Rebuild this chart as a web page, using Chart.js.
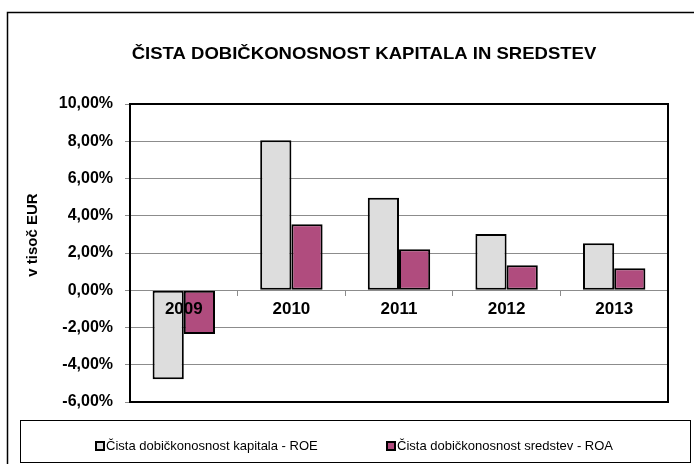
<!DOCTYPE html>
<html>
<head>
<meta charset="utf-8">
<script src="https://cdn.jsdelivr.net/npm/chart.js@4.4.1/dist/chart.umd.min.js"></script>
<style>
  html, body { margin: 0; padding: 0; background: #fff; }
  #wrap { width: 694px; height: 464px; position: relative; }
</style>
</head>
<body>
<div id="wrap"><canvas id="c" width="694" height="464"></canvas></div>
<script>
// Data
const years = ['2009', '2010', '2011', '2012', '2013'];
const roe = [-4.78, 8.05, 4.97, 3.02, 2.53];
const roa = [-2.35, 3.55, 2.2, 1.34, 1.18];
const seriesLabels = ['Čista dobičkonosnost kapitala - ROE', 'Čista dobičkonosnost sredstev - ROA'];
const titleText = 'ČISTA DOBIČKONOSNOST KAPITALA IN SREDSTEV';
const yTitle = 'v tisoč EUR';

const COLORS = {
    roe: '#dddddd',
    roa: '#b04c7e',
    border: '#000000',
    grid: '#8c8c8c',
};
const FONT = "'Liberation Sans', Arial, sans-serif";

const fmtPct = v => v.toFixed(2).replace('.', ',') + '%';

// Frame, title and legend box drawn around the chart area
const decor = {
    id: 'decor',
    beforeDraw(chart) {
        const ctx = chart.ctx;
        ctx.save();
        ctx.strokeStyle = '#000';
        ctx.lineWidth = 1.5;
        ctx.strokeRect(7.5, 12.5, 720, 480);
        ctx.restore();
    },
    afterDraw(chart) {
        const ctx = chart.ctx;
        const a = chart.chartArea;
        ctx.save();
        // plot frame
        ctx.strokeStyle = '#000';
        ctx.lineWidth = 2;
        ctx.strokeRect(a.left, a.top, a.right - a.left, a.bottom - a.top);

        // title (slightly widened like the original export)
        ctx.fillStyle = '#000';
        ctx.font = 'bold 17px ' + FONT;
        ctx.textAlign = 'center';
        ctx.textBaseline = 'middle';
        ctx.save();
        ctx.translate(364, 54);
        ctx.scale(1.09, 1);
        ctx.fillText(titleText, 0, 0);
        ctx.restore();

        // y axis title
        ctx.save();
        ctx.translate(33, 235);
        ctx.rotate(-Math.PI / 2);
        ctx.font = 'bold 15px ' + FONT;
        ctx.fillText(yTitle, 0, 0);
        ctx.restore();

        // legend box
        ctx.lineWidth = 1;
        ctx.strokeStyle = '#000';
        ctx.strokeRect(20.5, 420.5, 670, 42);
        ctx.font = '13px ' + FONT;
        ctx.textAlign = 'left';
        const xs = [96, 387];
        chart.data.datasets.forEach((ds, i) => {
            const x = xs[i], y = 446;
            ctx.fillStyle = ds.backgroundColor;
            ctx.fillRect(x, y - 4, 8, 8);
            ctx.lineWidth = 2;
            ctx.strokeRect(x, y - 4, 8, 8);
            ctx.fillStyle = '#000';
            ctx.fillText(ds.label, x + 10, y);
        });
        ctx.restore();
    }
};

new Chart(document.getElementById('c'), {
    type: 'bar',
    data: {
        labels: years,
        datasets: [
            {
                label: seriesLabels[0],
                data: roe,
                backgroundColor: COLORS.roe,
                borderColor: COLORS.border,
                borderWidth: 2,
                borderSkipped: false,
                categoryPercentage: 0.58,
                barPercentage: 1,
            },
            {
                label: seriesLabels[1],
                data: roa,
                backgroundColor: COLORS.roa,
                borderColor: COLORS.border,
                borderWidth: 2,
                borderSkipped: false,
                categoryPercentage: 0.58,
                barPercentage: 1,
            },
        ]
    },
    options: {
        responsive: false,
        animation: false,
        devicePixelRatio: 1,
        layout: { padding: { top: 104, right: 26, bottom: 62, left: 0 } },
        plugins: {
            legend: { display: false },
            title: { display: false },
            tooltip: { enabled: false },
        },
        scales: {
            x: {
                position: { y: 0 },
                grid: {
                    offset: true,
                    drawOnChartArea: false,
                    drawTicks: true,
                    tickLength: 5,
                    color: COLORS.grid,
                },
                border: { display: true, color: COLORS.grid, width: 1 },
                ticks: {
                    z: 1,  // labels drawn over the bars, as in the original
                    color: '#000',
                    font: { size: 17, weight: 'bold', family: FONT },
                    padding: 4,
                    maxRotation: 0,
                    autoSkip: false,
                },
            },
            y: {
                min: -6,
                max: 10,
                afterFit: s => { s.width = 130; },
                grid: {
                    color: COLORS.grid,
                    lineWidth: 1,
                    tickLength: 5,
                },
                border: { display: false },
                ticks: {
                    stepSize: 2,
                    color: '#000',
                    font: { size: 16, weight: 'bold', family: FONT },
                    padding: 12,
                    callback: v => fmtPct(v),
                },
            }
        }
    },
    plugins: [decor],
});
</script>
</body>
</html>
